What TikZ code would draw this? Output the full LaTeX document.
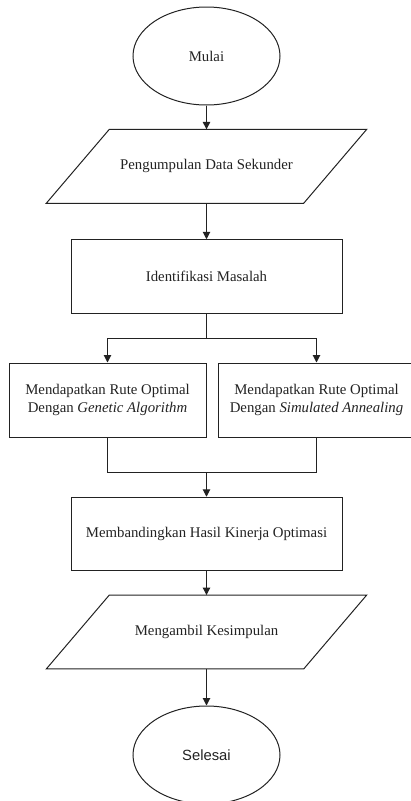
\documentclass[tikz,border=0pt]{standalone}
\usepackage{fontspec}
\setmainfont{Liberation Serif}
\newfontfamily\arialfont{Liberation Sans}
\usetikzlibrary{arrows.meta,shapes.geometric}
\definecolor{ink}{HTML}{222222}

\begin{document}
\begin{tikzpicture}[x=1pt,y=-1pt,font=\fontsize{14.8}{17.3}\selectfont,text=ink,
  terminal/.style={ellipse,draw=ink,line width=1pt,minimum width=147pt,minimum height=98pt,inner sep=0pt},
  iobox/.style={rectangle,minimum width=257pt,minimum height=73.5pt,
    append after command={\pgfextra{\draw[ink,line width=1pt]
      ([xshift=31.5pt]\tikzlastnode.north west) -- ([xshift=31.5pt]\tikzlastnode.north east)
      -- ([xshift=-31.5pt]\tikzlastnode.south east) -- ([xshift=-31.5pt]\tikzlastnode.south west) -- cycle;}}},
  procbox/.style={rectangle,draw=ink,line width=1pt,minimum width=271pt,minimum height=73.5pt,align=center},
  subbox/.style={rectangle,draw=ink,line width=1pt,minimum width=197pt,minimum height=74pt,align=center,inner sep=2pt},
  flow/.style={-{Triangle[length=7.5pt,width=7.5pt]},draw=ink,line width=1pt}]
\useasboundingbox (0,0) rectangle (410,801);
% shapes
\node[terminal] (start) at (206.5,56) {Mulai};
\node[iobox] (collect) at (206.5,166.3) {Pengumpulan Data Sekunder};
\node[procbox] (ident) at (206.5,276.5) {Identifikasi Masalah};
\node[subbox] (ga) at (107.5,400) {Mendapatkan Rute Optimal\\Dengan \textit{Genetic Algorithm}};
\node[subbox] (sa) at (316.5,400) {Mendapatkan Rute Optimal\\Dengan \textit{Simulated Annealing}};
\node[procbox] (compare) at (206.5,534) {Membandingkan Hasil Kinerja Optimasi};
\node[iobox] (concl) at (206.5,632) {Mengambil Kesimpulan};
\node[terminal,font=\arialfont\fontsize{14.8}{17.3}\selectfont] (finish) at (206.5,755) {Selesai};
% junctions
\coordinate (split) at (206.5,338.3);
\coordinate (merge) at (206.5,472.7);
% connectors
\draw[flow] (start) -- (collect);
\draw[flow] (collect) -- (ident);
\draw[draw=ink,line width=1pt] (ident) -- (split);
\draw[flow] (split) -| (ga.north);
\draw[flow] (split) -| (sa.north);
\draw[draw=ink,line width=1pt] (ga.south) |- (merge) -| (sa.south);
\draw[flow] (merge) -- (compare);
\draw[flow] (compare) -- (concl);
\draw[flow] (concl) -- (finish);
\end{tikzpicture}
\end{document}
